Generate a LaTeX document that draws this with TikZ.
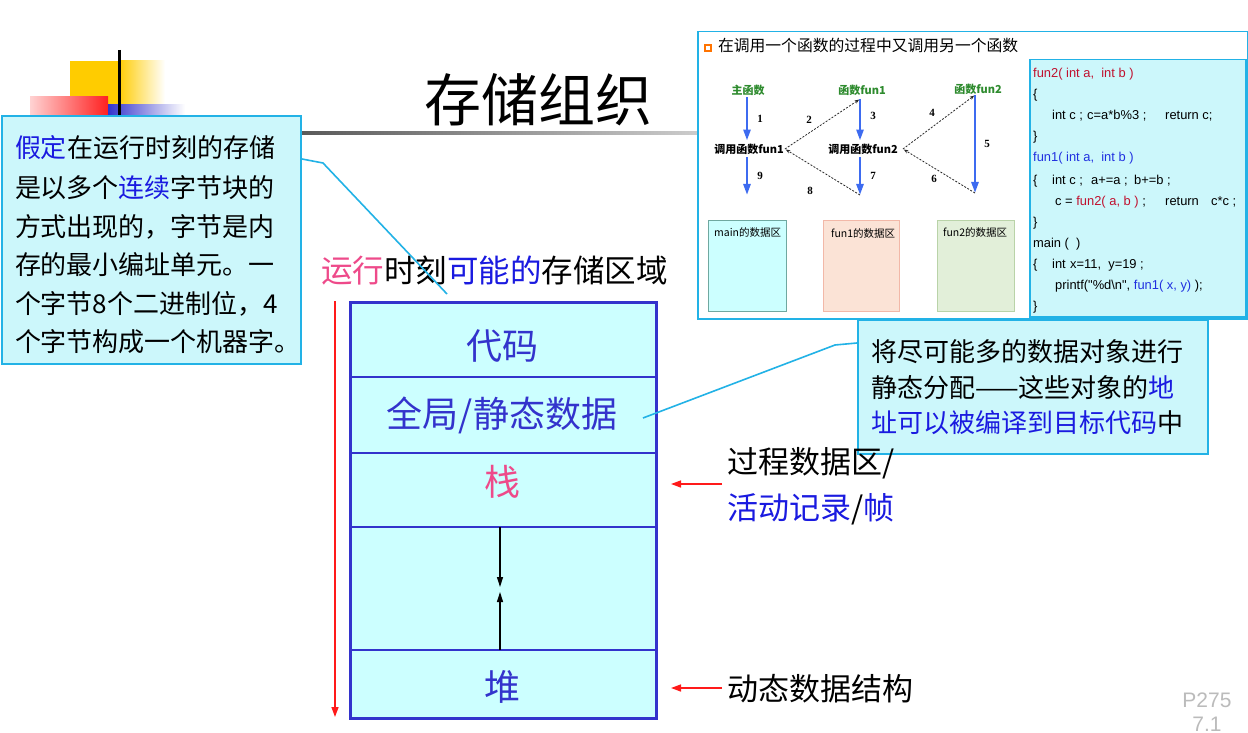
\documentclass[tikz,border=0pt]{standalone}
\usepackage{fontspec}
\setmainfont{Noto Sans CJK SC}
\newfontfamily\arialf{Liberation Sans}
\newfontfamily\timesf{Liberation Serif}
\usetikzlibrary{arrows.meta,calc}
\newcommand\fsz[1]{\fontsize{#1}{#1}\selectfont}
\definecolor{calloutfill}{HTML}{CCF7FB}
\definecolor{calloutedge}{HTML}{22B2E6}
\definecolor{memfill}{HTML}{CCFFFF}
\definecolor{memblue}{HTML}{3333CC}
\definecolor{hlblue}{HTML}{1A1AE0}
\definecolor{hlpink}{HTML}{EE4A8A}
\definecolor{redarrow}{HTML}{FF1A1A}
\definecolor{ingreen}{HTML}{2E8B2E}
\definecolor{inblue}{HTML}{3D6BF0}
\definecolor{codered}{HTML}{C0102E}
\definecolor{codeblue}{HTML}{2030E0}
\definecolor{pgray}{HTML}{BBBBBB}
\definecolor{decyellow}{HTML}{FFCC00}
\definecolor{decblue}{HTML}{3333CC}
\definecolor{decred}{HTML}{FF2020}
\definecolor{mainfill}{HTML}{CCFFFF}
\definecolor{mainedge}{HTML}{6FA8A0}
\definecolor{f1fill}{HTML}{FBE3D6}
\definecolor{f1edge}{HTML}{F2B8A8}
\definecolor{f2fill}{HTML}{E2EFD9}
\definecolor{f2edge}{HTML}{B9D3A8}
\tikzset{
  txt/.style={anchor=base west, inner sep=0pt, outer sep=0pt},
  ctxt/.style={anchor=base, inner sep=0pt, outer sep=0pt},
  callout/.style={draw=calloutedge, fill=calloutfill, line width=2pt, anchor=north west, inner sep=0pt},
  pointer/.style={draw=calloutedge, line width=1.6pt},
  redarr/.style={draw=redarrow, line width=1.5pt, -{Triangle[length=10pt,width=7pt]}},
  blackarr/.style={draw=black, line width=1.4pt, -{Triangle[length=10pt,width=6pt]}},
  bluearr/.style={draw=inblue, line width=2.5pt, -{Triangle[length=11pt,width=7pt]}},
  dasharr/.style={draw=black!85, line width=0.8pt, dashed, dash pattern=on 2pt off 1.5pt, -{Stealth[length=4.5pt,width=3.5pt]}},
  inlbl/.style={anchor=center, inner sep=1pt, font={\fsz{11}\bfseries}},
  numlbl/.style={anchor=center, inner sep=0pt, font={\timesf\bfseries\fsz{11}}},
  arealbl/.style={anchor=north west, inner sep=0pt, font={\fsz{10.5}}},
  code/.style={anchor=base west, inner sep=0pt, font={\arialf\fsz{12.9}}},
}
\begin{document}
\begin{tikzpicture}[x=1pt,y=-1pt]
\path[use as bounding box, fill=white] (0,0) rectangle (1248,733);

% decorations top-left
\fill[decyellow] (70,61) rectangle (118,105);
\shade[left color=decyellow, right color=white] (118,61) rectangle (165,105);
\shade[left color=decred!20, right color=decred] (30,97) rectangle (108,116);
\shade[left color=decblue, right color=white] (108,105) rectangle (185,116);
\draw[line width=3pt] (119,50) -- (119,116);

% title line and title
\shade[left color=black!65, right color=black!20] (300,131.5) rectangle (697,134.5);
\node[txt] (title) at (424,122) {\fsz{57}存储组织};

% left callout
\node[callout, minimum width=299, minimum height=248] (note1) at (1,115) {};
\node[txt] (n1l1) at (15,158) {\fsz{26}{\color{hlblue}假定}在运行时刻的存储};
\node[txt] (n1l2) at (15,197) {\fsz{26}是以多个{\color{hlblue}连续}字节块的};
\node[txt] (n1l3) at (15,236) {\fsz{26}方式出现的，字节是内};
\node[txt] (n1l4) at (15,274) {\fsz{26}存的最小编址单元。一};
\node[txt] (n1l5) at (15,313) {\fsz{26}个字节8个二进制位，4};
\node[txt] (n1l6) at (15,351) {\fsz{26}个字节构成一个机器字。};

% heading
\node[txt] (heading) at (321,282) {\fsz{31.5}{\color{hlpink}运行}时刻{\color{hlblue}可能的}存储区域};

% pointer of left callout
\coordinate (p1a) at (323,163);
\coordinate (p1b) at (447,294);
\draw[pointer] (note1.east |- 0,159) -- (p1a) -- (p1b);

% inset panel
\node[draw=calloutedge, line width=1.5pt, fill=white, minimum width=550, minimum height=287, anchor=north west, inner sep=0pt] (inset) at (697,31) {};
\node[draw=orange!90!red, line width=1.2pt, minimum size=6pt, inner sep=0pt] (bullet) at (708,48) {};
\node[txt] (insettitle) at (718,52) {\fsz{15.8}在调用一个函数的过程中又调用另一个函数};

% inset code box
\node[draw=calloutedge, line width=1.5pt, fill=calloutfill, minimum width=216, minimum height=257, anchor=north west, inner sep=0pt] (codebox) at (1029,59) {};
\node[code] (c1) at (1033,78) {\color{codered}fun2( int a,\ \ int b )};
\node[code] (c2) at (1033,99) {\{};
\node[code] (c3a) at (1052,120) {int c ;};
\node[code] (c3b) at (1087,120) {c=a*b\%3 ;};
\node[code] (c3c) at (1165,120) {return c;};
\node[code] (c4) at (1033,141) {\}};
\node[code] (c5) at (1033,162) {\color{codeblue}fun1( int a,\ \ int b )};
\node[code] (c6a) at (1033,184) {\{};
\node[code] (c6b) at (1052,184) {int c ;};
\node[code] (c6c) at (1091,184) {a+=a ;};
\node[code] (c6d) at (1134,184) {b+=b ;};
\node[code] (c7a) at (1055,205) {c = {\color{codered}fun2( a, b )} ;};
\node[code] (c7b) at (1165,205) {return};
\node[code] (c7c) at (1211,205) {c*c ;};
\node[code] (c8) at (1033,226) {\}};
\node[code] (c9) at (1033,247) {main (\ \ )};
\node[code] (c10a) at (1033,268) {\{};
\node[code] (c10b) at (1052,268) {int};
\node[code] (c10c) at (1070,268) {x=11,\ \ y=19 ;};
\node[code] (c11) at (1055,289) {printf("\%d\textbackslash n", {\color{codeblue}fun1( x, y)} );};
\node[code] (c12) at (1033,310) {\}};

% inset call diagram
\node[inlbl, text=ingreen] (mainf) at (748,90) {主函数};
\node[inlbl, text=ingreen] (fun1f) at (862,90) {函数fun1};
\node[inlbl, text=ingreen] (fun2f) at (978,89) {函数fun2};
\node[inlbl] (call1) at (749,149) {调用函数fun1};
\node[inlbl] (call2) at (863,149) {调用函数fun2};
\coordinate (top1) at (860,99);
\coordinate (bot1) at (860,195);
\coordinate (top2) at (975,95);
\coordinate (bot2) at (975,193);
\coordinate (bot0) at (747,195);
\draw[bluearr, shorten <=1pt, shorten >=2pt] (mainf.south -| bot0) -- (bot0 |- call1.north);
\draw[bluearr, shorten <=2pt] (call1.south -| bot0) -- (bot0);
\draw[bluearr, shorten >=2pt] (top1) -- (top1 |- call2.north);
\draw[bluearr, shorten <=2pt] (call2.south -| bot1) -- (bot1);
\draw[bluearr] (top2) -- (bot2);
\draw[dasharr, shorten >=1pt] (call1.east) -- (top1);
\draw[dasharr, shorten >=1pt] (bot1) -- (call1.east);
\draw[dasharr, shorten >=1pt] ($(call2.east)+(4,0)$) -- (top2);
\draw[dasharr, shorten >=1pt] (bot2) -- ($(call2.east)+(4,0)$);
\node[numlbl] (n1) at (760,119) {1};
\node[numlbl] (n9) at (760,176) {9};
\node[numlbl] (n2) at (809,120) {2};
\node[numlbl] (n8) at (810,191) {8};
\node[numlbl] (n3) at (873,116) {3};
\node[numlbl] (n7) at (873,176) {7};
\node[numlbl] (n4) at (932,113) {4};
\node[numlbl] (n6) at (934,179) {6};
\node[numlbl] (n5) at (987,144) {5};

% data areas
\node[draw=mainedge, fill=mainfill, line width=1pt, minimum width=78, minimum height=91, anchor=north west, inner sep=0pt] (mainarea) at (708,220) {};
\node[draw=f1edge, fill=f1fill, line width=1pt, minimum width=76, minimum height=91, anchor=north west, inner sep=0pt] (f1area) at (823,220) {};
\node[draw=f2edge, fill=f2fill, line width=1pt, minimum width=77, minimum height=91, anchor=north west, inner sep=0pt] (f2area) at (937,220) {};
\node[arealbl] (mainlbl) at (714,227) {main的数据区};
\node[arealbl] (f1lbl) at (831,228) {fun1的数据区};
\node[arealbl] (f2lbl) at (943,227) {fun2的数据区};

% right callout
\node[callout, minimum width=350, minimum height=134] (note2) at (857,319) {};
\node[txt] (n2l1) at (871,361) {\fsz{26}将尽可能多的数据对象进行};
\node[txt] (n2l2) at (871,397) {\fsz{26}静态分配——这些对象的{\color{hlblue}地}};
\node[txt] (n2l3) at (871,432) {\fsz{26}{\color{hlblue}址可以被编译到目标代码}中};

% memory box
\node[draw=memblue, line width=3pt, fill=memfill, minimum width=306, minimum height=416, anchor=north west, inner sep=0pt] (mem) at (349,301) {};
\foreach \yy in {377,453,527,650}
  \draw[memblue, line width=1.5pt] (mem.west |- 0,\yy) -- (mem.east |- 0,\yy);
\node[ctxt, text=memblue] (lcode) at (502,359) {\fsz{36}代码};
\node[ctxt, text=memblue] (lglob) at (502,427) {\fsz{36}全局/静态数据};
\node[ctxt, text=hlpink] (lstack) at (502,495) {\fsz{36}栈};
\node[ctxt, text=memblue] (lheap) at (502,700) {\fsz{36}堆};

% pointer of right callout
\coordinate (p2a) at (643,418);
\coordinate (p2b) at (835,345);
\draw[pointer] (p2a) -- (p2b) -- (note2.west |- 0,343);

% growth arrows
\coordinate (stackbot) at (500,527);
\coordinate (meetdown) at (500,587);
\coordinate (heaptop) at (500,650);
\coordinate (meetup) at (500,592);
\draw[blackarr] (stackbot) -- (meetdown);
\draw[blackarr] (heaptop) -- (meetup);

% red address arrow on the left
\coordinate (addrtop) at (335,301);
\coordinate (addrbot) at (335,717);
\draw[redarr] (addrtop) -- (addrbot);

% right labels
\node[txt] (lproc) at (727,473) {\fsz{31}过程数据区/};
\node[txt] (lact) at (727,519) {\fsz{31}{\color{hlblue}活动记录}/{\color{hlblue}帧}};
\node[txt] (ldyn) at (727,700) {\fsz{31}动态数据结构};
\coordinate (pa) at (722,484);
\coordinate (pb) at (722,688);
\draw[redarr, shorten >=13pt] (pa) -- (pa -| mem.east);
\draw[redarr, shorten >=13pt] (pb) -- (pb -| mem.east);

% page number
\node[ctxt, text=pgray] (pnum) at (1207,707) {\arialf\fsz{21}P275};
\node[ctxt, text=pgray] (pver) at (1207,731) {\arialf\fsz{21}7.1};
\end{tikzpicture}
\end{document}
